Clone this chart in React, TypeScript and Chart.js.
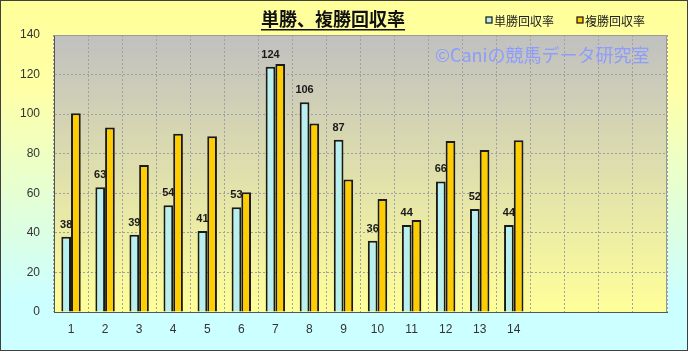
import React, { useEffect, useRef } from 'react';
import { Chart, registerables } from 'chart.js';

Chart.register(...registerables);

// ---- data ----
const categories = ['1', '2', '3', '4', '5', '6', '7', '8', '9', '10', '11', '12', '13', '14'];
const blankSlots = ['', '', '', ''];
const tanshoValues = [38, 63, 39, 54, 41, 53, 124, 106, 87, 36, 44, 66, 52, 44];
const fukushoValues = [100.4, 93.3, 74.3, 90.1, 88.8, 60.5, 125.3, 95.3, 67.0, 57.1, 46.5, 86.4, 81.9, 86.8];
const seriesNames = ['単勝回収率', '複勝回収率'];
const titleText = '単勝、複勝回収率';
const watermarkText = '©Caniの競馬データ研究室';
const yMin = 0;
const yMax = 140;
const yStep = 20;

const BLUE = '#B8F0F2';
const GOLD = '#FFCC00';
const JP = '"Noto Sans CJK JP", "DejaVu Sans", sans-serif';
const NUM = '"Liberation Sans", Arial, sans-serif';

const decorPlugin = {
  id: 'decor',
  beforeDraw(chart: any) {
    const { ctx, width, height, chartArea: a } = chart;
    ctx.save();
    const g = ctx.createLinearGradient(0, 0, 0, height);
    g.addColorStop(0, '#FFFF99');
    g.addColorStop(0.25, '#FFFFA6');
    g.addColorStop(0.85, '#CCFFFF');
    g.addColorStop(1, '#CCFFFF');
    ctx.fillStyle = g;
    ctx.fillRect(0, 0, width, height);
    const g2 = ctx.createLinearGradient(0, a.top, 0, a.bottom);
    g2.addColorStop(0, '#C0C0C0');
    g2.addColorStop(1, '#FFFF99');
    ctx.fillStyle = g2;
    ctx.fillRect(a.left, a.top, a.right - a.left, a.bottom - a.top);
    ctx.restore();
  },
  afterDraw(chart: any) {
    const { ctx, width, height, chartArea: a } = chart;
    ctx.save();
    // plot frame top/right
    ctx.strokeStyle = '#9a9a9a';
    ctx.lineWidth = 1;
    ctx.beginPath();
    ctx.moveTo(a.left, a.top + 0.5);
    ctx.lineTo(a.right - 0.5, a.top + 0.5);
    ctx.lineTo(a.right - 0.5, a.bottom);
    ctx.stroke();
    // outer border
    ctx.strokeStyle = '#404040';
    ctx.strokeRect(0.5, 0.5, width - 1, height - 1);

    // title
    ctx.fillStyle = '#111';
    ctx.font = `bold 18px ${JP}`;
    ctx.textAlign = 'center';
    ctx.textBaseline = 'middle';
    const tx = 333;
    const ty = 19;
    ctx.fillText(titleText, tx, ty);
    const tw = ctx.measureText(titleText).width;
    ctx.fillRect(tx - tw / 2, 29, tw, 1.5);

    // legend
    ctx.font = `12px ${JP}`;
    ctx.textAlign = 'left';
    const legendItems = [
      { x: 486, color: BLUE, text: seriesNames[0] },
      { x: 577, color: GOLD, text: seriesNames[1] },
    ];
    legendItems.forEach((it) => {
      ctx.fillStyle = it.color;
      ctx.fillRect(it.x, 17, 6, 6);
      ctx.strokeStyle = '#111';
      ctx.lineWidth = 1.2;
      ctx.strokeRect(it.x, 17, 6, 6);
      ctx.fillStyle = '#222';
      ctx.fillText(it.text, it.x + 8, 21);
    });

    // data labels on first series
    const meta = chart.getDatasetMeta(0);
    ctx.font = `bold 11px ${NUM}`;
    ctx.fillStyle = '#1a1a1a';
    ctx.textAlign = 'center';
    ctx.textBaseline = 'alphabetic';
    meta.data.forEach((bar: any, i: number) => {
      ctx.fillText(String(tanshoValues[i]), bar.x, bar.y - 9);
    });
    ctx.restore();
  },
  afterDatasetsDraw(chart: any) {
    const { ctx } = chart;
    ctx.save();
    ctx.font = `18px ${JP}`;
    ctx.fillStyle = '#8C9CFF';
    ctx.textAlign = 'left';
    ctx.textBaseline = 'middle';
    ctx.fillText(watermarkText, 435, 55);
    ctx.restore();
  },
};

export default function App() {
  const ref = useRef<HTMLCanvasElement>(null);
  useEffect(() => {
    document.body.style.margin = '0';
    const chart = new Chart(ref.current as HTMLCanvasElement, {
      type: 'bar',
      data: {
        labels: [...categories, ...blankSlots],
        datasets: [
          {
            label: seriesNames[0],
            data: tanshoValues,
            backgroundColor: BLUE,
            borderColor: '#1a1a1a',
            borderWidth: 2,
            categoryPercentage: 0.57,
            barPercentage: 1,
          },
          {
            label: seriesNames[1],
            data: fukushoValues,
            backgroundColor: GOLD,
            borderColor: '#1a1a1a',
            borderWidth: 2,
            categoryPercentage: 0.57,
            barPercentage: 1,
          },
        ],
      },
      options: {
        responsive: false,
        animation: false,
        devicePixelRatio: 1,
        layout: { padding: { top: 35, right: 21, left: 0, bottom: 0 } },
        plugins: {
          legend: { display: false },
          title: { display: false },
          tooltip: { enabled: false },
        },
        scales: {
          x: {
            grid: { color: '#a0a0a0', offset: true, drawTicks: false, lineWidth: 1 },
            border: { display: true, color: '#555', width: 1, dash: [2, 2] },
            ticks: {
              padding: 10,
              color: '#333',
              autoSkip: false,
              maxRotation: 0,
              font: { family: NUM, size: 12 },
            },
            afterFit: (s: any) => {
              s.height = 39;
            },
          },
          y: {
            min: yMin,
            max: yMax,
            grid: { color: '#a0a0a0', drawTicks: false, lineWidth: 1 },
            border: { display: true, color: '#555', width: 1, dash: [2, 2] },
            ticks: {
              stepSize: yStep,
              padding: 14,
              color: '#333',
              font: { family: NUM, size: 12 },
            },
            afterFit: (s: any) => {
              s.width = 54;
            },
          },
        },
      },
      plugins: [decorPlugin],
    } as any);
    return () => chart.destroy();
  }, []);
  return (
    <div style={{ width: 688, height: 351 }}>
      <canvas ref={ref} width={688} height={351} style={{ display: 'block' }} />
    </div>
  );
}
